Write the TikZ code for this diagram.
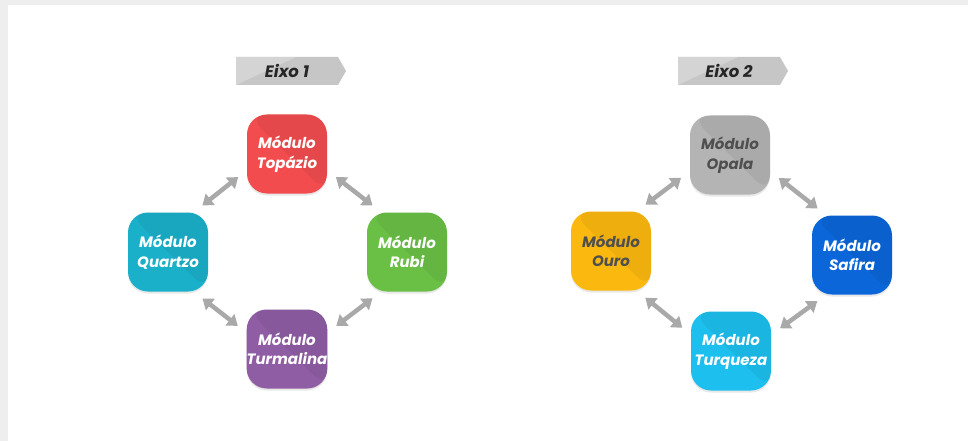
\documentclass[tikz,border=0pt]{standalone}
\usepackage{fontspec}
\setmainfont{Poppins}
\usetikzlibrary{arrows.meta}
\usetikzlibrary{shapes.symbols}
\usetikzlibrary{shadows}
\definecolor{topazio}{HTML}{F24C4F}
\definecolor{quartzo}{HTML}{1AB0C9}
\definecolor{rubi}{HTML}{6ABF45}
\definecolor{turmalina}{HTML}{8F5DA4}
\definecolor{opala}{HTML}{B4B4B4}
\definecolor{ouro}{HTML}{FBB80F}
\definecolor{safira}{HTML}{0B67D9}
\definecolor{turquesa}{HTML}{1CBFEE}
\definecolor{escuro}{HTML}{4F4F4F}
\definecolor{seta}{HTML}{A9A9A9}
\definecolor{fundo}{HTML}{EEEEEE}
\definecolor{etiqueta}{HTML}{C6C6C6}

\begin{document}
\begin{tikzpicture}[line cap=round,line join=round,x=1pt,y=-1pt,
  modulo/.style={rectangle,rounded corners=20pt,minimum width=80pt,minimum height=79pt,
    align=center,inner sep=0pt,font=\fontsize{15}{19.5}\selectfont\bfseries\itshape,
    drop shadow={shadow xshift=0pt,shadow yshift=-2pt,opacity=.18},
    path picture={\fill[black,opacity=.05] (path picture bounding box.north west) --
      (path picture bounding box.north east) -- (path picture bounding box.south east) -- cycle;}},
  eixo/.style={signal,signal to=east,signal pointer angle=120,fill=etiqueta,text=black!85,
    minimum width=110pt,minimum height=28pt,inner sep=0pt,
    font=\fontsize{16.5}{19}\selectfont\bfseries\itshape,
    path picture={\fill[white,opacity=.25] (path picture bounding box.north west) --
      ([xshift=-50pt]path picture bounding box.north east) -- (path picture bounding box.south west) -- cycle;}},
  elo/.style={draw=seta,line width=4.5pt,line cap=butt,shorten <=11pt,shorten >=11pt,
    {Triangle[width=14pt,length=10pt]}-{Triangle[width=14pt,length=10pt]}}]
\useasboundingbox (0,0) rectangle (968,441);
\fill[fundo] (0,0) rectangle (968,441);
\fill[white] (8,5) rectangle (968,441);
% etiquetas
\node[eixo] (eixoA) at (287,71) {Eixo 1};
\node[eixo] (eixoB) at (729,71) {Eixo 2};
% modulos
\foreach \nome/\x/\y/\cor/\tc/\rot in {
  topazio/287/154/topazio/white/Topázio,
  quartzo/168/252/quartzo/white/Quartzo,
  rubi/407/252/rubi/white/Rubi,
  turmalina/287/349/turmalina/white/Turmalina,
  opala/730/155/opala/escuro/Opala,
  ouro/611/251/ouro/escuro/Ouro,
  safira/852/255/safira/white/Safira,
  turquesa/731/351/turquesa/white/Turqueza}
  \node[modulo,fill=\cor,text=\tc] (\nome) at (\x,\y) {Módulo\\\rot};
% setas
\foreach \a/\b/\sa/\sb in {topazio/quartzo/202/57, topazio/rubi/-22/123,
  turmalina/quartzo/158/-57, turmalina/rubi/22/-123,
  opala/ouro/202/57, opala/safira/-22/123,
  turquesa/ouro/158/-57, turquesa/safira/22/-123}
  \draw[elo] (\a.\sa) -- (\b.\sb);
\end{tikzpicture}
\end{document}
